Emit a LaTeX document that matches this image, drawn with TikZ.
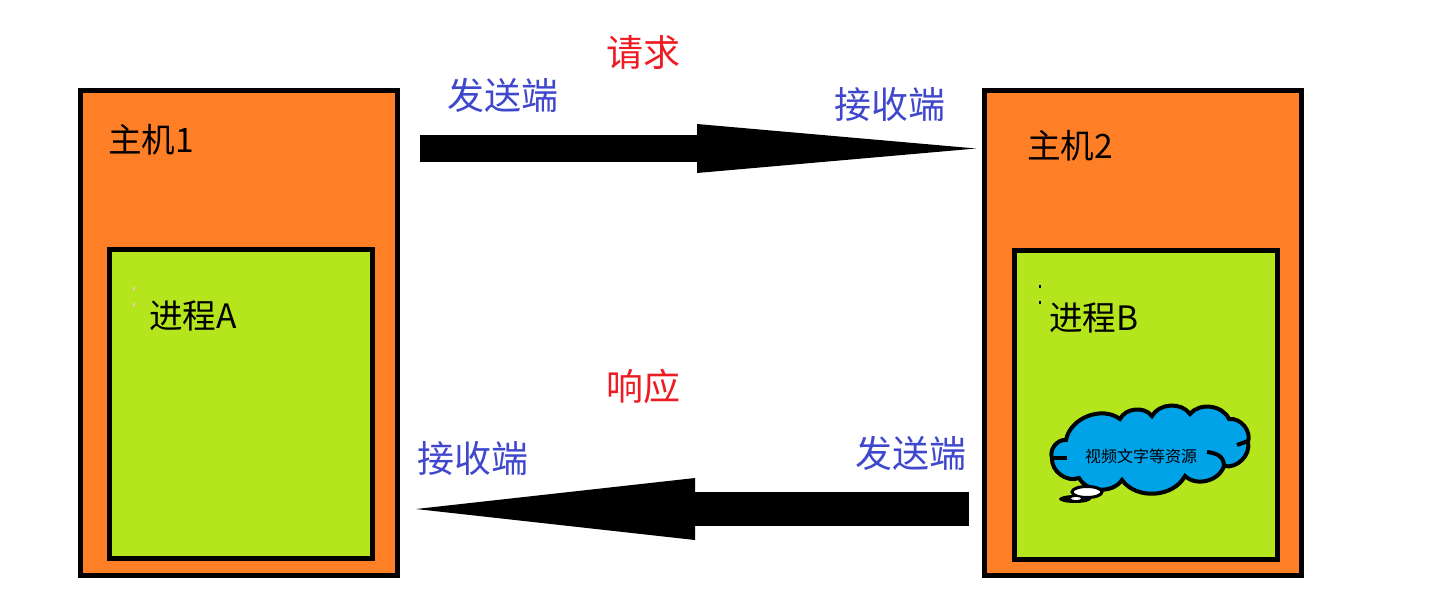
\documentclass[tikz,border=0pt]{standalone}
\usepackage{fontspec}
\setmainfont{Noto Sans CJK SC}
\usetikzlibrary{arrows.meta,positioning}

\definecolor{hostorange}{HTML}{FF7F27}
\definecolor{procgreen}{HTML}{B5E61D}
\definecolor{cloudblue}{HTML}{00A2E8}
\definecolor{endblue}{HTML}{3F48CC}
\definecolor{msgred}{HTML}{ED1C24}

\begin{document}
\begin{tikzpicture}[
    x=0.5pt,
    y=-0.5pt,
    font=\fontsize{16.8pt}{20pt}\selectfont,
    host/.style={draw, line width=2.5pt, fill=hostorange, minimum width=158.5pt, minimum height=242.5pt},
    proc/.style={draw, line width=2.5pt, fill=procgreen, minimum width=131.5pt, minimum height=154.5pt},
    endlabel/.style={text=endblue, font=\fontsize{18.5pt}{22pt}\selectfont},
    msglabel/.style={text=msgred, font=\fontsize{18.5pt}{22pt}\selectfont},
    reqarrow/.style={line width=13.5pt, -{Triangle[length=139.5pt,width=24.5pt,line width=0pt]}},
    resparrow/.style={line width=17pt, -{Triangle[length=139.5pt,width=31pt,line width=0pt]}},
    puff/.style={bend right=58}
]
\useasboundingbox (0,0) rectangle (1448,616);

\node[host] (hostone) at (239,333) {};
\node[host] (hosttwo) at (1143,333) {};
\node[proc] (procone) at (241,404) {};
\node[proc] (proctwo) at (1145.5,404.5) {};

\node (hostonetext) at (151,140) {主机1};
\node (hosttwotext) at (1070,146) {主机2};
\node (proconetext) at (193,316) {进程A};
\node (proctwotext) at (1094,318) {进程B};

\foreach \dotx/\doty/\dotcol in {134/288/pink, 134/304/pink, 1040/286/black, 1040/302/black}
    \fill[\dotcol] (\dotx-0.7,\doty-1.5) rectangle (\dotx+0.7,\doty+1.5);

\coordinate (reqstart) at (420,148.5);
\coordinate (reqend) at (976,148.5);
\coordinate (respstart) at (969,509);
\coordinate (respend) at (416,509);
\draw[reqarrow] (reqstart) -- (reqend);
\draw[resparrow] (respstart) -- (respend);

\node[msglabel] (reqtext) at (643,52) {请求};
\node[msglabel] (resptext) at (643,386) {响应};
\node[endlabel] (sendone) at (503,95) {发送端};
\node[endlabel] (recvone) at (890,104) {接收端};
\node[endlabel] (recvtwo) at (473,458) {接收端};
\node[endlabel] (sendtwo) at (911,453) {发送端};

\draw[line width=2pt, fill=cloudblue] (1066,440)
    to[puff] (1052,458) to[puff] (1079,478) to[puff] (1122,480)
    to[puff] (1185,476) to[puff] (1224,466) to[puff] (1248,442)
    to[puff] (1229,419) to[puff] (1190,414) to[puff] (1152,416)
    to[puff] (1120,419) to[puff] (1066,440) -- cycle;
\draw[line width=2pt] (1052,458) -- (1067,458);
\draw[line width=2pt] (1237,445) -- (1248,441);
\draw[line width=2pt] (1224,466) .. controls (1224,456) and (1216,453) .. (1207,452);
\node[font=\fontsize{8pt}{10pt}\selectfont] (cloudtext) at (1141,456) {视频文字等资源};

\fill (1075,499) ellipse (16 and 4);
\draw[line width=1.5pt, fill=white] (1087,492) ellipse (15 and 5.5);
\fill[white] (1076,498.5) ellipse (5 and 1.5);
\end{tikzpicture}
\end{document}
